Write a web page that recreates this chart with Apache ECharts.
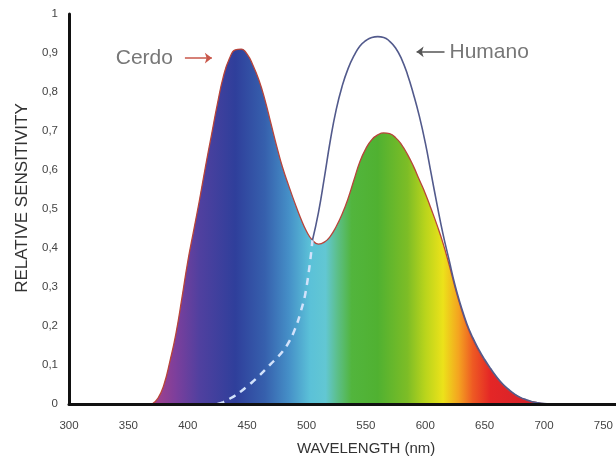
<!DOCTYPE html>
<html><head><meta charset="utf-8">
<script src="https://cdn.jsdelivr.net/npm/echarts@6.0.0/dist/echarts.min.js"></script>
<style>html,body{margin:0;padding:0;background:#fff}#c{width:616px;height:463px}</style>
</head><body><div id="c"></div>
<script>
// ---- data ----
const pigWavelengths = [370,375,380,385,390,395,400,405,410,415,420,425,430,435,440,445,450,455,460,465,470,475,480,485,490,495,500,505,510,515,520,525,530,535,540,545,550,555,560,565,570,575,580,585,590,595,600,605,610,615,620,625,630,635,640,645,650,655,660,665,670,675,680,685,690,695,700,705];
const pigValues = [0,0.015,0.05,0.11,0.18,0.27,0.365,0.445,0.525,0.61,0.69,0.77,0.84,0.885,0.908,0.91,0.897,0.868,0.83,0.78,0.72,0.66,0.605,0.56,0.517,0.477,0.443,0.42,0.41,0.415,0.43,0.455,0.487,0.527,0.575,0.622,0.655,0.678,0.69,0.695,0.693,0.683,0.665,0.64,0.61,0.575,0.54,0.5,0.458,0.412,0.358,0.3,0.247,0.202,0.166,0.136,0.11,0.088,0.068,0.05,0.036,0.025,0.016,0.01,0.006,0.003,0.001,0];
const humanWavelengths = [505,510,515,520,525,530,535,540,545,550,555,560,565,570,575,580,585,590,595,600,605,610,615,620,625,630,635,640,645,650,655,660,665,670,675,680,685,690,695,700,705];
const humanValues = [0.42,0.49,0.58,0.675,0.755,0.815,0.86,0.893,0.918,0.932,0.94,0.942,0.94,0.93,0.913,0.885,0.845,0.795,0.738,0.67,0.59,0.51,0.435,0.37,0.305,0.252,0.206,0.17,0.14,0.114,0.091,0.07,0.052,0.038,0.026,0.017,0.011,0.006,0.003,0.001,0];
const humanHiddenWavelengths = [425,430,435,440,445,450,455,460,465,470,475,480,485,490,495,500,505];
const humanHiddenValues = [0,0.005,0.013,0.022,0.033,0.045,0.058,0.072,0.087,0.103,0.118,0.135,0.158,0.19,0.235,0.3,0.42];
const xTickLabels = [300,350,400,450,500,550,600,650,700,750];
const yTickLabels = ['0','0,1','0,2','0,3','0,4','0,5','0,6','0,7','0,8','0,9','1'];
const pigLabel = 'Cerdo';
const humanLabel = 'Humano';
const pigArrow = [[397.6,0.887],[420.3,0.887]];
const humanArrow = [[616.2,0.903],[592.7,0.903]];

// ---- style ----
const spectrum = [[372,'#a3418c'],[390,'#7c3f9c'],[410,'#50409f'],[440,'#2f3f9b'],[465,'#3660ad'],[485,'#458fc7'],[503,'#5bc1d8'],[516,'#62c7d3'],[526,'#5cbf8a'],[538,'#52b53d'],[560,'#50b131'],[585,'#7dbd26'],[600,'#b9d41c'],[615,'#ece21a'],[628,'#f4a420'],[640,'#ee5a23'],[655,'#e42626'],[705,'#cf1f2c']];
const L = pigWavelengths[0], R = pigWavelengths[pigWavelengths.length-1];
const stops = spectrum.map(([w,c]) => ({offset: Math.min(1, Math.max(0, (w-L)/(R-L))), color: c}));

const zip = (xs, ys) => xs.map((x,i) => [x, ys[i]]);
const chart = echarts.init(document.getElementById('c'), null, {renderer:'canvas'});
const font = 'Liberation Sans, Arial, sans-serif';
chart.setOption({
  animation:false,
  backgroundColor:'#fff',
  grid:{left:69,right:0,top:14,bottom:59},
  xAxis:{type:'value',min:300,max:760,interval:50,z:5,
    axisLine:{lineStyle:{color:'#111',width:3}},axisTick:{show:false},splitLine:{show:false},
    axisLabel:{color:'#444',fontSize:11.5,fontFamily:font,margin:16,showMaxLabel:false,
      formatter:v => xTickLabels.includes(v) ? String(v) : ''},
    name:'WAVELENGTH (nm)',nameLocation:'middle',nameGap:37,
    nameTextStyle:{color:'#333',fontSize:15,fontFamily:font,padding:[0,0,0,48]}},
  yAxis:{type:'value',min:0,max:1,interval:0.1,z:5,
    axisLine:{show:true,lineStyle:{color:'#111',width:3}},axisTick:{show:false},splitLine:{show:false},
    axisLabel:{color:'#444',fontSize:11.5,fontFamily:font,margin:11,
      formatter:v => yTickLabels[Math.round(v*10)]},
    name:'RELATIVE SENSITIVITY',nameLocation:'middle',nameGap:30,
    nameTextStyle:{color:'#333',fontSize:17,fontFamily:font,padding:[0,0,0,22]}},
  series:[
    {type:'line',name:pigLabel,data:zip(pigWavelengths,pigValues),smooth:0.5,showSymbol:false,z:2,
      lineStyle:{color:'#b8443a',width:1.3},
      areaStyle:{opacity:1,color:new echarts.graphic.LinearGradient(0,0,1,0,stops)},
      markLine:{silent:true,symbol:['none','arrow'],symbolSize:[8,7],animation:false,
        lineStyle:{color:'#c9574a',width:1.5,type:'solid'},
        label:{show:true,position:'start',formatter:pigLabel,color:'#777',fontSize:21,fontFamily:font,distance:12},
        data:[[{coord:pigArrow[0]},{coord:pigArrow[1]}]]}},
    {type:'line',name:'hidden',data:zip(humanHiddenWavelengths,humanHiddenValues),smooth:0.5,showSymbol:false,z:3,
      lineStyle:{color:'#d2e2fb',width:2.5,type:[7,6]}},
    {type:'line',name:humanLabel,data:zip(humanWavelengths,humanValues),smooth:0.5,showSymbol:false,z:4,
      lineStyle:{color:'#525a8c',width:1.6},
      markLine:{silent:true,symbol:['none','arrow'],symbolSize:[8,7],animation:false,
        lineStyle:{color:'#555',width:1.5,type:'solid'},
        label:{show:true,position:'start',formatter:humanLabel,color:'#777',fontSize:21,fontFamily:font,distance:5},
        data:[[{coord:humanArrow[0]},{coord:humanArrow[1]}]]}}
  ]
});
</script></body></html>
